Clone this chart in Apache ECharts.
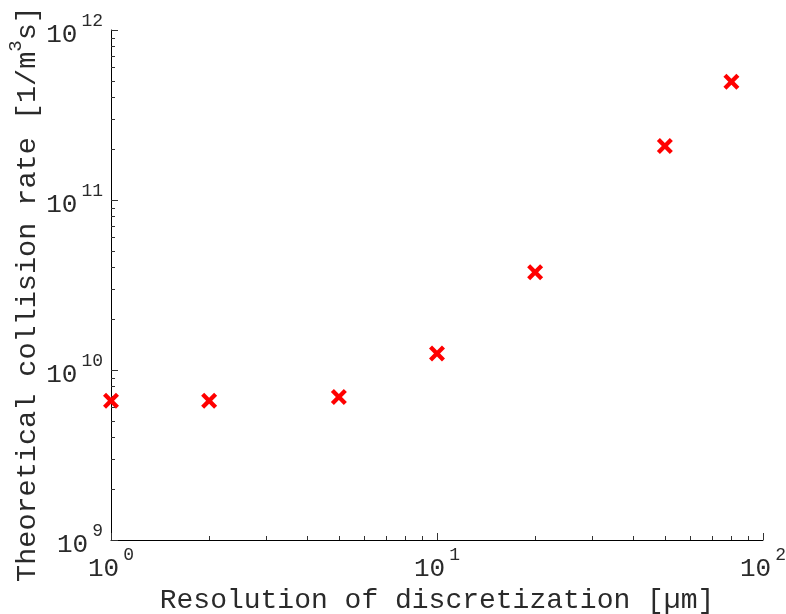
<!DOCTYPE html>
<html>
<head>
<meta charset="utf-8">
<script src="https://cdn.jsdelivr.net/npm/echarts@6/dist/echarts.min.js"></script>
<style>
  html, body { margin: 0; padding: 0; background: #fff; }
  #chart { width: 786px; height: 614px; }
</style>
</head>
<body>
<div id="chart"></div>
<script>
// Grid resolution in micrometres and the matching theoretical collision rate
const resolutionUm = [1, 2, 5, 10, 20, 50, 80];
const collisionRate = [6.6e9, 6.6e9, 6.94e9, 1.25e10, 3.76e10, 2.08e11, 4.96e11];

// Decade ticks and the 2..9 minor ticks in between
const xMajorTicks = [1, 10, 100];
const yMajorTicks = [1e9, 1e10, 1e11, 1e12];
const minorSteps = [2, 3, 4, 5, 6, 7, 8, 9];

function minorsOf(decades) {
  const out = [];
  for (let i = 0; i < decades.length - 1; i++) {
    minorSteps.forEach(m => out.push(decades[i] * m));
  }
  return out;
}
const xMinorTicks = minorsOf(xMajorTicks);
const yMinorTicks = minorsOf(yMajorTicks);

const FONT = '"Liberation Mono", "DejaVu Sans Mono", monospace';
const INK = '#2a2a2a';

// Label as 10 with a raised exponent
function powerLabel(v) {
  const e = Math.round(Math.log10(v));
  return '{b|10}{s|' + e + '}';
}
const powerRich = {
  b: { fontFamily: FONT, fontSize: 26, color: INK, lineHeight: 36, verticalAlign: 'bottom' },
  s: { fontFamily: FONT, fontSize: 18, color: INK, lineHeight: 36, verticalAlign: 'top', padding: [0, 0, 0, 4] }
};

// Filled "x" marker inside a 10x10 box
const k = 1.9;
const crossPath = 'path://M' + k + ',0 L5,' + (5 - k) + ' L' + (10 - k) + ',0 L10,' + k +
  ' L' + (5 + k) + ',5 L10,' + (10 - k) + ' L' + (10 - k) + ',10 L5,' + (5 + k) +
  ' L' + k + ',10 L0,' + (10 - k) + ' L' + (5 - k) + ',5 L0,' + k + ' Z';

const chart = echarts.init(document.getElementById('chart'), null, { renderer: 'canvas' });

const xBase = { type: 'log', logBase: 10, min: 1, max: 100, gridIndex: 0, splitLine: { show: false } };
const yBase = { type: 'log', logBase: 10, min: 1e9, max: 1e12, gridIndex: 0, splitLine: { show: false } };

chart.setOption({
  animation: false,
  backgroundColor: '#ffffff',
  grid: { left: 111, right: 23, top: 30, bottom: 74, containLabel: false, outerBoundsMode: 'none' },
  xAxis: [
    Object.assign({}, xBase, {
      position: 'bottom',
      name: 'Resolution of discretization [\u00b5m]',
      nameLocation: 'middle',
      nameGap: 47,
      nameMoveOverlap: false,
      nameTextStyle: { fontFamily: FONT, fontSize: 28, color: INK },
      axisLine: { show: true, lineStyle: { color: '#000', width: 1 } },
      axisTick: { show: true, inside: true, length: 7, customValues: xMajorTicks, lineStyle: { color: '#333' } },
      axisLabel: { show: true, customValues: xMajorTicks, formatter: powerLabel, rich: powerRich, margin: 6 }
    }),
    Object.assign({}, xBase, {
      position: 'bottom',
      axisLine: { show: false },
      axisTick: { show: true, inside: true, length: 4, customValues: xMinorTicks, lineStyle: { color: '#333' } },
      axisLabel: { show: false }
    })
  ],
  yAxis: [
    Object.assign({}, yBase, {
      position: 'left',
      name: '{n|Theoretical collision rate [1/m}{p|3}{n|s]}',
      nameLocation: 'middle',
      nameGap: 69,
      nameMoveOverlap: false,
      nameRotate: 90,
      nameTextStyle: {
        padding: [0, 18, 0, 0],
        rich: {
          n: { fontFamily: FONT, fontSize: 28.5, color: INK, lineHeight: 36, verticalAlign: 'bottom' },
          p: { fontFamily: FONT, fontSize: 19, color: INK, lineHeight: 36, verticalAlign: 'top' }
        }
      },
      axisLine: { show: true, lineStyle: { color: '#000', width: 1 } },
      axisTick: { show: true, inside: true, length: 7, customValues: yMajorTicks, lineStyle: { color: '#333' } },
      axisLabel: { show: true, customValues: yMajorTicks, formatter: powerLabel, rich: powerRich, margin: 8 }
    }),
    Object.assign({}, yBase, {
      position: 'left',
      axisLine: { show: false },
      axisTick: { show: true, inside: true, length: 4, customValues: yMinorTicks, lineStyle: { color: '#333' } },
      axisLabel: { show: false }
    })
  ],
  series: [{
    type: 'scatter',
    xAxisIndex: 0,
    yAxisIndex: 0,
    symbol: crossPath,
    symbolSize: 16,
    itemStyle: { color: '#ff0000', opacity: 1 },
    data: resolutionUm.map((x, i) => [x, collisionRate[i]])
  }]
});
</script>
</body>
</html>
